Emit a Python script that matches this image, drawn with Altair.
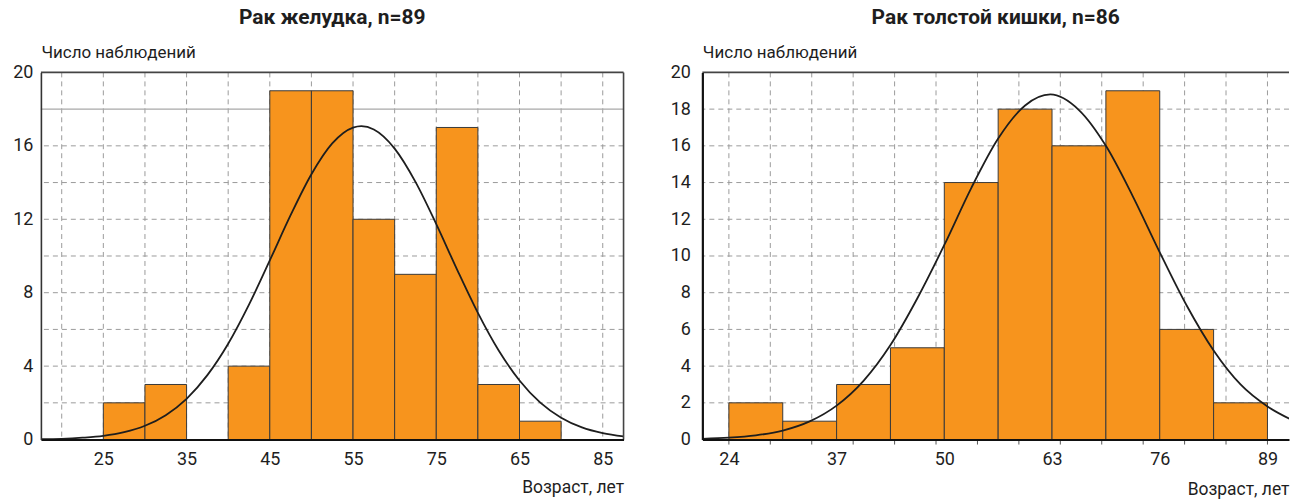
import altair as alt
import pandas as pd

FONT = "Roboto"
ORANGE = "#F7941D"
INK = "#1e1e1e"
GRID = "#9b9b9b"

# ---------------- Left panel: stomach cancer ----------------
left_title = "Рак желудка, n=89"
left_bin_start = [25, 30, 35, 40, 45, 50, 55, 60, 65, 70, 75]
left_bin_end = [30, 35, 40, 45, 50, 55, 60, 65, 70, 75, 80]
left_counts = [2, 3, 0, 4, 19, 19, 12, 9, 17, 3, 1]
left_curve_x = [17.5, 20, 22.5, 25, 27.5, 30, 32.5, 35, 37.5, 40, 42.5, 45, 47.5, 50,
                52.5, 55, 56, 57.5, 60, 62.5, 65, 67.5, 70, 72.5, 75, 77.5, 80, 82.5, 85, 87.5]
left_curve_y = [0.02, 0.04, 0.10, 0.20, 0.40, 0.75, 1.33, 2.22, 3.51, 5.22, 7.35, 9.76, 12.22, 14.45,
                16.13, 16.99, 17.07, 16.89, 15.85, 14.04, 11.74, 9.26, 6.90, 4.85, 3.22, 2.01, 1.19, 0.66, 0.35, 0.17]
left_tick_values = [25, 35, 45, 55, 65, 75, 85]
left_tick_labels = ["25", "35", "45", "55", "75", "65", "85"]
left_vgrid = [20, 25, 30, 35, 40, 45, 50, 55, 60, 65, 70, 75, 80, 85]
left_hgrid_dashed = [2, 4, 6, 8, 10, 12, 14, 16]
left_hgrid_solid = [18]
left_y_labels = [0, 4, 8, 12, 16, 20]
left_domain = [17.5, 87.5]

# ---------------- Right panel: colon cancer ----------------
right_title = "Рак толстой кишки, n=86"
right_bin_start = [24, 30.5, 37, 43.5, 50, 56.5, 63, 69.5, 76, 82.5]
right_bin_end = [30.5, 37, 43.5, 50, 56.5, 63, 69.5, 76, 82.5, 89]
right_counts = [2, 1, 3, 5, 14, 18, 16, 19, 6, 2]
right_curve_x = [20.8, 24, 27.25, 30.5, 33.75, 37, 40.25, 43.5, 46.75, 50, 53.25, 56.5, 59.75,
                 62.8, 66.25, 69.5, 72.75, 76, 79.25, 82.5, 85.75, 89, 92.25]
right_curve_y = [0.04, 0.10, 0.23, 0.49, 0.99, 1.85, 3.2, 5.15, 7.7, 10.6, 13.7, 16.4, 18.2,
                 18.8, 17.95, 16.0, 13.25, 10.2, 7.3, 4.85, 3.0, 1.8, 1.0]
right_tick_values = [24, 37, 50, 63, 76, 89]
right_tick_labels = ["24", "37", "50", "63", "76", "89"]
right_vgrid = [24, 29, 34, 39, 44, 49, 54, 59, 64, 69, 74, 79, 84, 89]
right_hgrid_dashed = [2, 4, 6, 8, 10, 12, 14, 16, 18]
right_y_labels = [0, 2, 4, 6, 8, 10, 12, 14, 16, 18, 20]
right_domain = [20.8, 91.6]

Y_TITLE = "Число наблюдений"
X_TITLE = "Возраст, лет"
H = 368


def label_expr(values, labels):
    parts = [f"datum.value == {v} ? '{l}'" for v, l in zip(values, labels)]
    return " : ".join(parts) + " : ''"


def panel(title, starts, ends, counts, cx, cy, vgrid, hdash, hsolid, domain, width,
          tvals, tlabels, ylabels, ylabel_pad, ydom_color, ydom_width, xtitle_pad, right_side):
    xs = alt.Scale(domain=domain, nice=False, zero=False)
    ys = alt.Scale(domain=[0, 20], nice=False, zero=True)
    xax = alt.Axis(
        values=tvals, labelExpr=label_expr(tvals, tlabels), grid=False, ticks=False,
        domainColor="#111111", domainWidth=2, labelFont=FONT, labelFontSize=18,
        labelColor=INK, labelPadding=11, labelFlush=False,
        title=X_TITLE, titleFont=FONT, titleFontSize=17.5, titleFontWeight="normal",
        titleColor=INK, titleAnchor="end", titlePadding=xtitle_pad, zindex=2)
    yax = alt.Axis(
        values=ylabels, grid=False, ticks=False, domainColor=ydom_color,
        domainWidth=ydom_width, labelFont=FONT, labelFontSize=18, labelColor=INK,
        labelPadding=ylabel_pad, title=Y_TITLE, titleFont=FONT, titleFontSize=17,
        titleFontWeight="normal", titleColor=INK, titleAngle=0, titleX=0, titleY=-20,
        titleAlign="left", titleBaseline="middle", zindex=2)

    bars_df = pd.DataFrame({"start": starts, "end": ends, "count": counts})
    curve_df = pd.DataFrame({"x": cx, "y": cy})

    vg = alt.Chart(pd.DataFrame({"g": vgrid})).mark_rule(
        color=GRID, strokeDash=[5, 4], strokeWidth=1
    ).encode(x=alt.X("g:Q", scale=xs, axis=xax, title=X_TITLE))

    hg = alt.Chart(pd.DataFrame({"h": hdash})).mark_rule(
        color=GRID, strokeDash=[5, 4], strokeWidth=1
    ).encode(y=alt.Y("h:Q", scale=ys, axis=yax, title=Y_TITLE))

    layers = [vg, hg]
    if hsolid:
        hs = alt.Chart(pd.DataFrame({"h": hsolid})).mark_rule(
            color="#a8a8a8", strokeWidth=1.2
        ).encode(y=alt.Y("h:Q", scale=ys, axis=yax, title=Y_TITLE))
        layers.append(hs)

    bars = alt.Chart(bars_df).mark_rect(
        fill=ORANGE, stroke="#3a3a3a", strokeWidth=1
    ).encode(
        x=alt.X("start:Q", scale=xs, axis=xax, title=X_TITLE),
        x2="end:Q",
        y=alt.Y("count:Q", scale=ys, axis=yax, title=Y_TITLE),
        y2=alt.datum(0),
    )
    layers.append(bars)

    line = alt.Chart(curve_df).mark_line(
        color=INK, strokeWidth=1.8, interpolate="monotone", clip=True
    ).encode(x=alt.X("x:Q", scale=xs, axis=xax, title=X_TITLE),
             y=alt.Y("y:Q", scale=ys, axis=yax, title=Y_TITLE))
    layers.append(line)

    # frame: top border (and right border for the left panel)
    top = alt.Chart(pd.DataFrame({"a": [0]})).mark_rule(
        color="#444444", strokeWidth=1.6
    ).encode(x=alt.value(0), x2=alt.value(width), y=alt.value(0))
    layers.append(top)
    if not right_side:
        rgt = alt.Chart(pd.DataFrame({"a": [0]})).mark_rule(
            color="#444444", strokeWidth=1.6
        ).encode(x=alt.value(width), y=alt.value(0), y2=alt.value(H))
        layers.append(rgt)
    else:
        tk = alt.Chart(pd.DataFrame({"g": vgrid})).mark_rule(
            color="#555555", strokeWidth=1
        ).encode(x=alt.X("g:Q", scale=xs, axis=xax, title=X_TITLE),
                 y=alt.value(H), y2=alt.value(H + 5))
        layers.append(tk)

    return alt.layer(*layers).properties(
        width=width, height=H,
        title=alt.TitleParams(title, font=FONT, fontSize=21, fontWeight="bold",
                              color=INK, anchor="middle", offset=16),
    )


left = panel(left_title, left_bin_start, left_bin_end, left_counts, left_curve_x, left_curve_y,
             left_vgrid, left_hgrid_dashed, left_hgrid_solid, left_domain, 584,
             left_tick_values, left_tick_labels, left_y_labels, 8, "#333333", 1.6, 10, False)
right = panel(right_title, right_bin_start, right_bin_end, right_counts, right_curve_x, right_curve_y,
              right_vgrid, right_hgrid_dashed, [], right_domain, 588,
              right_tick_values, right_tick_labels, right_y_labels, 12, "#111111", 2.2, 12, True)

chart = alt.hconcat(left, right, spacing=45).properties(
    padding={"left": 12, "top": 6, "right": 0, "bottom": 0}
).configure_view(stroke=None)

chart.save("out.html", embed_options={"renderer": "svg", "actions": False})
